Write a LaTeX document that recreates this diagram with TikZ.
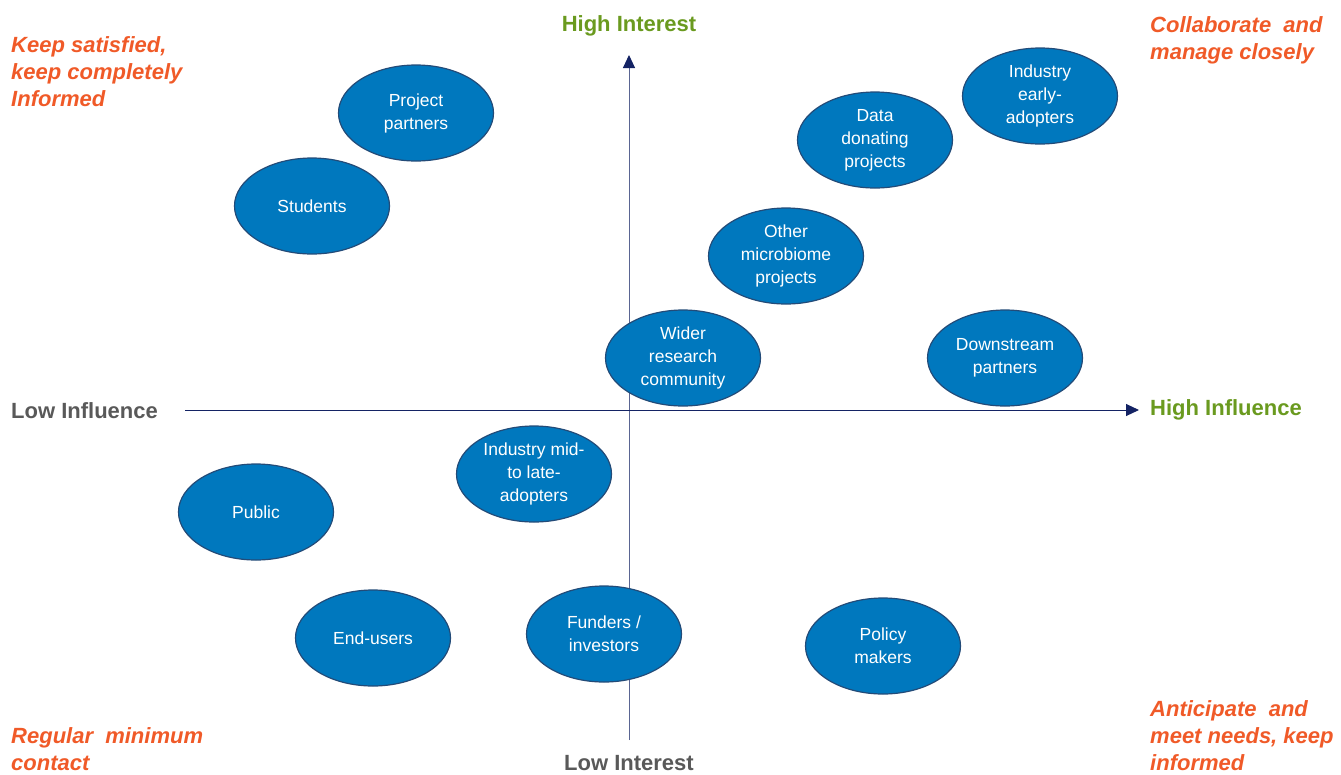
\documentclass[tikz,border=0pt]{standalone}
\usepackage{fontspec}
\setmainfont{Liberation Sans}
\usetikzlibrary{arrows.meta,shapes.geometric}
\definecolor{ellfill}{RGB}{0,120,190}
\definecolor{elldraw}{RGB}{35,75,120}
\definecolor{axisnavy}{RGB}{20,35,100}
\definecolor{hiGreen}{RGB}{106,154,31}
\definecolor{loGray}{RGB}{89,89,89}
\definecolor{advOrange}{RGB}{240,90,40}
\tikzset{
  stake/.style={ellipse, draw=elldraw, line width=1.2pt, fill=ellfill, text=white,
    minimum width=155pt, minimum height=96pt, inner sep=0pt, align=center,
    font=\fontsize{17.5}{23}\selectfont},
  axislbl/.style={font=\fontsize{22}{26}\selectfont\bfseries, inner sep=0pt},
  advice/.style={font=\fontsize{22}{27}\selectfont\bfseries\itshape, text=advOrange,
    align=left, inner sep=0pt, anchor=north west},
  axisline/.style={draw=axisnavy, line width=1pt, -{Triangle[length=13pt,width=12pt,color=axisnavy]}}
}
\begin{document}
\begin{tikzpicture}[x=1pt,y=-1pt]
\useasboundingbox (0,0) rectangle (1341,774);
% axes
\coordinate (vbot) at (629,740);
\coordinate (vtop) at (629,55);
\coordinate (hl) at (185,410);
\coordinate (hr) at (1139,410);
\draw[axisline, draw=axisnavy!70] (vbot) -- (vtop);
\draw[axisline] (hl) -- (hr);
% axis labels
\node[axislbl, text=hiGreen] (hi) at (629,26) {High Interest};
\node[axislbl, text=loGray] (li) at (629,763) {Low Interest};
\node[axislbl, text=loGray, anchor=west] (lf) at (11,411) {Low Influence};
\node[axislbl, text=hiGreen, anchor=west] (hf) at (1150,410) {High Influence};
% advice
\node[advice] (tl) at (11,36) {Keep satisfied,\\keep completely\\Informed};
\node[advice] (tr) at (1150,16) {Collaborate\ \ and\\manage closely};
\node[advice] (bl) at (11,727) {Regular\ \ minimum\\contact};
\node[advice] (br) at (1150,700) {Anticipate\ \ and\\meet needs, keep\\informed};
% stakeholders
\node[stake] (pp) at (416,113) {Project\\partners};
\node[stake] (st) at (312,206) {Students};
\node[stake] (dd) at (875,140) {Data\\donating\\projects};
\node[stake] (ie) at (1040,96) {Industry\\early-\\adopters};
\node[stake] (om) at (786,256) {Other\\microbiome\\projects};
\node[stake] (wr) at (683,358) {Wider\\research\\community};
\node[stake] (ds) at (1005,358) {Downstream\\partners};
\node[stake] (im) at (534,474) {Industry mid-\\to late-\\adopters};
\node[stake] (pu) at (256,512) {Public};
\node[stake] (eu) at (373,638) {End-users};
\node[stake] (fi) at (604,634) {Funders /\\investors};
\node[stake] (pm) at (883,646) {Policy\\makers};
\end{tikzpicture}
\end{document}
